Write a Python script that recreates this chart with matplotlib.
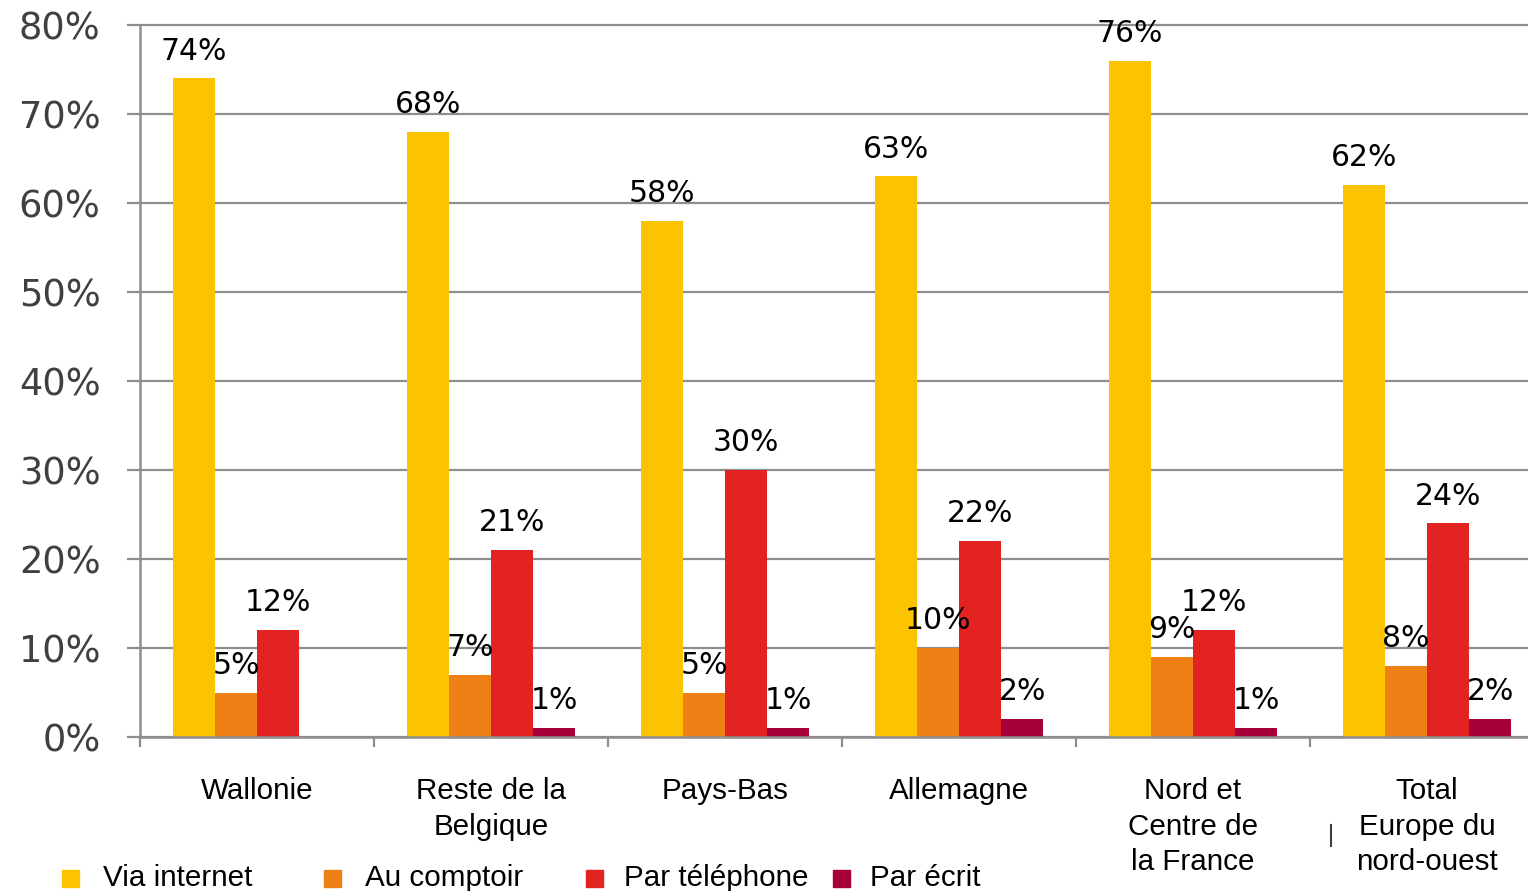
import matplotlib
matplotlib.use('Agg')

import matplotlib.pyplot as plt
from matplotlib.patches import Rectangle
from matplotlib.lines import Line2D
import numpy as np

# données du graphique
categories = ['Wallonie', 'Reste de la\nBelgique', 'Pays-Bas', 'Allemagne',
              'Nord et\nCentre de\nla France', 'Total\nEurope du\nnord-ouest']
series = ['Via internet', 'Au comptoir', 'Par téléphone', 'Par écrit']
via_internet = [74, 68, 58, 63, 76, 62]
au_comptoir = [5, 7, 5, 10, 9, 8]
par_telephone = [12, 21, 30, 22, 12, 24]
par_ecrit = [None, 1, 1, 2, 1, 2]
y_ticks = [0, 10, 20, 30, 40, 50, 60, 70, 80]

colors = ['#FBC300', '#EE8015', '#E22322', '#A8003A']
grid_color = '#8e8e8e'
num_font = 'DejaVu Sans'
txt_font = 'Liberation Sans'
W, H = 1528, 891

fig = plt.figure(figsize=(W / 100, H / 100), dpi=100)
ax = fig.add_axes([140 / W, 1 - 737 / H, 1404 / W, (737 - 25) / H])

x = np.arange(len(categories))
bw = 0.18
values = [via_internet, au_comptoir, par_telephone, par_ecrit]
for j, (vals, col) in enumerate(zip(values, colors)):
    pos = x + (j - 1.5) * bw
    h = [np.nan if v is None else v for v in vals]
    ax.bar(pos, h, width=bw, color=col, edgecolor='none', zorder=3)
    for p, v in zip(pos, vals):
        if v is None:
            continue
        ax.annotate(f'{v}%', (p, v), xytext=(0, 13.5), textcoords='offset points',
                    ha='center', va='baseline', fontsize=21.5, family=num_font,
                    color='black', zorder=5)

ax.set_xlim(-0.5, len(categories) - 0.5)
ax.set_ylim(0, 80)

# axe y
ax.set_yticks(y_ticks)
ax.set_yticklabels([f'{t}%' for t in y_ticks], fontsize=26.5, family=num_font,
                   color='#404040')
ax.tick_params(axis='y', direction='out', length=9.5, width=1.6, color=grid_color, pad=19)
ax.yaxis.grid(True, color=grid_color, linewidth=1.6, zorder=0)
for gl in ax.get_ygridlines():
    gl.set_clip_on(False)
ax.set_axisbelow(True)

# axe x : séparateurs entre groupes + libellés centrés
ax.set_xticks(np.arange(-0.5, len(categories)), minor=False)
ax.set_xticklabels([])
ax.set_xticks(x, minor=True)
ax.set_xticklabels(categories, minor=True, fontsize=21.3, family=txt_font,
                   color='black', linespacing=1.33)
ax.tick_params(axis='x', which='major', direction='out', length=7, width=1.6, color=grid_color)
ax.tick_params(axis='x', which='minor', length=0, pad=29)

for s in ['top', 'right']:
    ax.spines[s].set_visible(False)
for s in ['left', 'bottom']:
    ax.spines[s].set_color(grid_color)
    ax.spines[s].set_linewidth(1.8)
    ax.spines[s].set_zorder(4)

# légende en bas
mark_x = [62, 324, 586, 833]
text_x = [103, 365, 624, 870]
for name, col, mx, tx in zip(series, colors, mark_x, text_x):
    fig.patches.append(Rectangle((mx / W, 1 - 887 / H), 17 / W, 17 / H,
                                 transform=fig.transFigure, color=col))
    fig.text(tx / W, 1 - 886 / H, name, fontsize=21.3, family=txt_font,
             color='black', va='baseline', ha='left')

# petit trait isolé près du dernier libellé
fig.lines.append(Line2D([1331 / W, 1331 / W], [1 - 825 / H, 1 - 846 / H],
                        transform=fig.transFigure, color='#404040', lw=1.5))

fig.savefig('out.png', dpi=100)
